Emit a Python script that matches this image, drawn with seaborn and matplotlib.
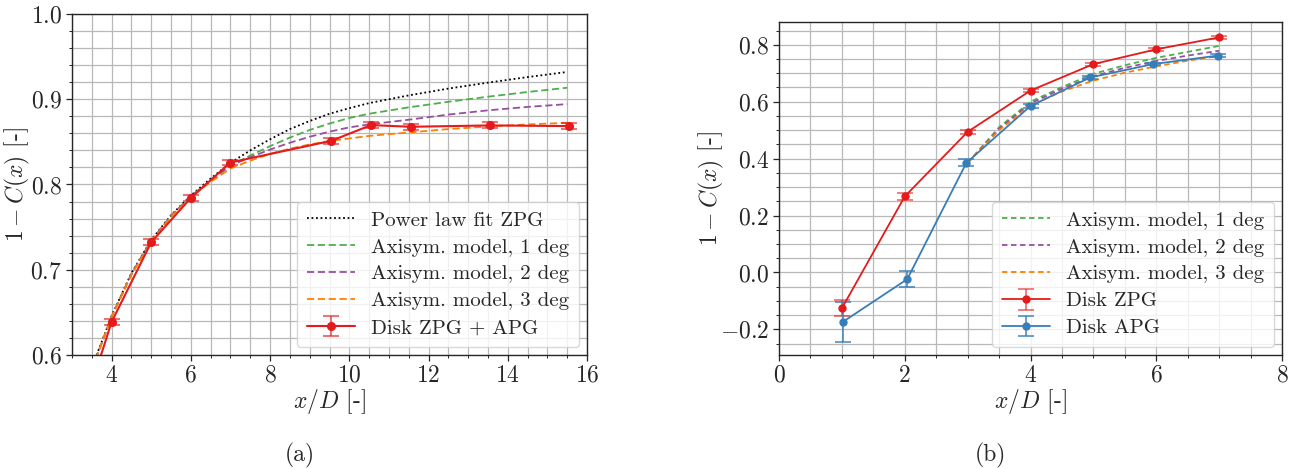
import numpy as np
import pandas as pd
import matplotlib
matplotlib.use("Agg")
import matplotlib.pyplot as plt
from matplotlib.ticker import MultipleLocator
import seaborn as sns

# ---------------- data: panel (a) ----------------
a_disk_x = [1, 2, 3, 4, 5, 6, 7, 9.55, 10.55, 11.55, 13.55, 15.55]
a_disk_y = [-0.126, 0.267, 0.494, 0.6387, 0.7323, 0.7843, 0.8258, 0.8513, 0.8697, 0.8677, 0.8693, 0.8685]
a_disk_yerr = [0.028, 0.013, 0.007, 0.0035, 0.0035, 0.0035, 0.0035, 0.0035, 0.0035, 0.0035, 0.0035, 0.0035]

a_model_x = [3.5, 4, 4.5, 5, 5.5, 6, 6.5, 7, 7.5, 8, 8.5, 9, 9.5, 10, 10.5, 11.5, 12.5, 13.5, 14.5, 15.5]
a_power = [0.585, 0.646, 0.696, 0.735, 0.764, 0.787, 0.807, 0.8254, 0.840, 0.853, 0.865, 0.8745, 0.883, 0.8895, 0.8955, 0.9045, 0.9125, 0.9195, 0.926, 0.932]
a_m1 = [0.583, 0.645, 0.695, 0.734, 0.763, 0.786, 0.805, 0.822, 0.834, 0.845, 0.855, 0.864, 0.8715, 0.878, 0.883, 0.8905, 0.897, 0.903, 0.9085, 0.9135]
a_m2 = [0.583, 0.645, 0.695, 0.734, 0.763, 0.786, 0.805, 0.822, 0.832, 0.841, 0.849, 0.856, 0.862, 0.867, 0.8705, 0.876, 0.882, 0.887, 0.891, 0.8943]
a_m3 = [0.583, 0.645, 0.694, 0.733, 0.762, 0.785, 0.803, 0.8188, 0.828, 0.836, 0.842, 0.847, 0.851, 0.854, 0.857, 0.861, 0.865, 0.868, 0.8705, 0.8724]

# ---------------- data: panel (b) ----------------
b_zpg_x = [1, 2, 3, 4, 5, 6, 7]
b_zpg_y = [-0.126, 0.267, 0.494, 0.639, 0.732, 0.784, 0.826]
b_zpg_yerr = [0.028, 0.013, 0.007, 0.005, 0.005, 0.005, 0.004]

b_apg_x = [1.02, 2.04, 2.98, 4.0, 4.95, 5.95, 6.98]
b_apg_y = [-0.173, -0.0235, 0.385, 0.585, 0.685, 0.732, 0.762]
b_apg_yerr = [0.07, 0.027, 0.012, 0.008, 0.005, 0.004, 0.004]

b_model_x = [3.0, 3.5, 4.0, 4.5, 5.0, 5.5, 6.0, 6.5, 7.0]
b_m1 = [0.385, 0.510, 0.600, 0.651, 0.698, 0.728, 0.754, 0.775, 0.796]
b_m2 = [0.385, 0.505, 0.594, 0.645, 0.690, 0.719, 0.743, 0.762, 0.779]
b_m3 = [0.385, 0.500, 0.586, 0.636, 0.674, 0.702, 0.724, 0.744, 0.761]

labels_models = ["Axisym. model, 1 deg", "Axisym. model, 2 deg", "Axisym. model, 3 deg"]

# ---------------- style ----------------
sns.set_style("ticks")
plt.rcParams["font.family"] = ["cmr10", "DejaVu Serif"]
plt.rcParams["mathtext.fontset"] = "cm"
plt.rcParams["axes.formatter.use_mathtext"] = True
plt.rcParams["axes.unicode_minus"] = True

pal = sns.color_palette("Set1")
red, blue, green, purple, orange = pal[0], pal[1], pal[2], pal[3], pal[4]

fig = plt.figure(figsize=(12.95, 4.69), dpi=100)
axa = fig.add_axes([72 / 1295, 1 - 355 / 469, (587 - 72) / 1295, (355 - 14) / 469])
axb = fig.add_axes([779 / 1295, 1 - 355 / 469, (1282 - 779) / 1295, (355 - 22) / 469])

TICK_FS = 17
LAB_FS = 17
LEG_FS = 15


def style_axes(ax, xminor, yminor):
    ax.xaxis.set_minor_locator(MultipleLocator(xminor))
    ax.yaxis.set_minor_locator(MultipleLocator(yminor))
    ax.grid(which="major", color="#b8b8b8", linewidth=0.9)
    ax.grid(which="minor", color="#b8b8b8", linewidth=0.9)
    ax.set_axisbelow(True)
    for s in ax.spines.values():
        s.set_visible(True)
        s.set_color("#262626")
        s.set_linewidth(1.0)
    ax.tick_params(which="major", direction="out", length=4, width=0.9, labelsize=TICK_FS,
                   bottom=True, left=True, pad=3)
    ax.tick_params(which="minor", direction="out", length=2.5, width=0.7, bottom=True, left=True)


def legend(ax):
    ax.legend(loc="lower right", fontsize=LEG_FS, frameon=True, fancybox=True, framealpha=0.8,
              edgecolor="#d0d0d0", handlelength=2.3, handletextpad=0.8, labelspacing=0.4,
              borderpad=0.45, borderaxespad=0.4)


# ---------------- panel (a) ----------------
dfa = pd.DataFrame({"x": a_model_x, "p": a_power, "m1": a_m1, "m2": a_m2, "m3": a_m3})
sns.lineplot(data=dfa, x="x", y="p", ax=axa, color="black", linestyle=(0, (1, 1.5)),
             linewidth=1.3, label="Power law fit ZPG")
for col, c, lab in zip(["m1", "m2", "m3"], [green, purple, orange], labels_models):
    sns.lineplot(data=dfa, x="x", y=col, ax=axa, color=c, linestyle=(0, (4, 2)),
                 linewidth=1.3, label=lab)
axa.errorbar(a_disk_x, a_disk_y, yerr=a_disk_yerr, color=red, marker="o",
             markersize=5.5, linewidth=1.5, capsize=6, elinewidth=1.5, ecolor=(*red, 0.6),
             capthick=1.5, label="Disk ZPG + APG")
axa.set_xlim(3, 16)
axa.set_ylim(0.6, 1.0)
axa.xaxis.set_major_locator(MultipleLocator(2))
axa.yaxis.set_major_locator(MultipleLocator(0.1))
style_axes(axa, 0.5, 0.02)
axa.set_xlabel("$x/D$ [-]", fontsize=LAB_FS, labelpad=0)
axa.set_ylabel("$1-C(x)$ [-]", fontsize=LAB_FS)
axa.yaxis.set_label_coords(-0.078, 0.5)
legend(axa)

# ---------------- panel (b) ----------------
dfb = pd.DataFrame({"x": b_model_x, "m1": b_m1, "m2": b_m2, "m3": b_m3})
for col, c, lab in zip(["m1", "m2", "m3"], [green, purple, orange], labels_models):
    sns.lineplot(data=dfb, x="x", y=col, ax=axb, color=c, linestyle=(0, (3, 2)),
                 linewidth=1.3, label=lab)
axb.errorbar(b_zpg_x, b_zpg_y, yerr=b_zpg_yerr, color=red, marker="o", markersize=5,
             linewidth=1.3, capsize=6, elinewidth=1.3, ecolor=(*red, 0.6), capthick=1.3,
             label="Disk ZPG")
axb.errorbar(b_apg_x, b_apg_y, yerr=b_apg_yerr, color=blue, marker="o", markersize=5,
             linewidth=1.3, capsize=6, elinewidth=1.3, ecolor=(*blue, 0.8), capthick=1.3,
             label="Disk APG")
axb.set_xlim(0, 8)
axb.set_ylim(-0.29, 0.88)
axb.xaxis.set_major_locator(MultipleLocator(2))
axb.yaxis.set_major_locator(MultipleLocator(0.2))
style_axes(axb, 0.5, 0.05)
axb.set_xlabel("$x/D$ [-]", fontsize=LAB_FS, labelpad=0)
axb.set_ylabel("$1-C(x)$ [-]", fontsize=LAB_FS)
axb.yaxis.set_label_coords(-0.106, 0.5)
legend(axb)

fig.text(300 / 1295, 1 - 455 / 469, "(a)", ha="center", va="center", fontsize=LAB_FS)
fig.text(990 / 1295, 1 - 455 / 469, "(b)", ha="center", va="center", fontsize=LAB_FS)

fig.savefig("out.png", dpi=100)
